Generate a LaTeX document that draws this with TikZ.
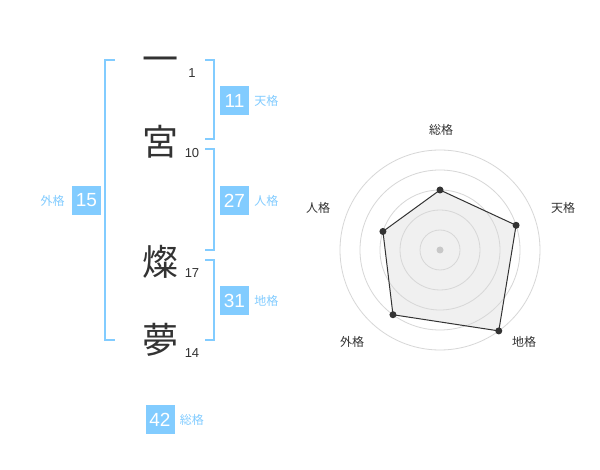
\documentclass[tikz,border=0pt]{standalone}
\usepackage{fontspec}
\setmainfont{Liberation Sans}
\newfontfamily\jpfont{Noto Sans CJK JP}
\usetikzlibrary{positioning}
\definecolor{skyblue}{RGB}{130,204,255}
\definecolor{inkgray}{RGB}{51,51,51}
\definecolor{ringgray}{RGB}{215,215,215}
\definecolor{fillgray}{RGB}{240,240,240}
\definecolor{dotgray}{RGB}{200,200,200}
\tikzset{
  kanji/.style={inner sep=0pt, text=inkgray, font=\jpfont\fontsize{36}{36}\selectfont},
  strokes/.style={inner sep=0pt, text=inkgray, font=\fontsize{13}{13}\selectfont},
  valbox/.style={fill=skyblue, text=white, minimum size=29pt, inner sep=0pt, font=\fontsize{19}{19}\selectfont},
  kaku/.style={inner sep=0pt, text=skyblue, font=\jpfont\fontsize{12}{12}\selectfont},
  bracket/.style={draw=skyblue, line width=2pt},
  axislabel/.style={inner sep=0pt, text=inkgray, font=\jpfont\fontsize{12}{12}\selectfont},
}
\begin{document}
\begin{tikzpicture}[x=1pt, y=-1pt]
    \useasboundingbox[fill=white] (0,0) rectangle (600,470);

    % Name characters
    \node[kanji] (c1) at (160,64.5) {一};
    \node[kanji] (c2) at (160,142) {宮};
    \node[kanji] (c3) at (160,262) {燦};
    \node[kanji] (c4) at (160,340) {夢};

    % Stroke counts
    \node[strokes] (n1) at (192,73) {1};
    \node[strokes] (n2) at (192,153) {10};
    \node[strokes] (n3) at (192,273) {17};
    \node[strokes] (n4) at (192,353) {14};

    % Brackets
    \draw[bracket] (115,60) -- (105,60) -- (105,340) -- (115,340);
    \draw[bracket] (205,60) -- (214,60) -- (214,139) -- (205,139);
    \draw[bracket] (205,149) -- (214,149) -- (214,250) -- (205,250);
    \draw[bracket] (205,260) -- (214,260) -- (214,340) -- (205,340);

    % Values
    \node[valbox] (ten) at (234.5,100.5) {11};
    \node[kaku, right=5pt of ten] (tenl) {天格};
    \node[valbox] (jin) at (234.5,200.5) {27};
    \node[kaku, right=5pt of jin] (jinl) {人格};
    \node[valbox] (chi) at (234.5,300.5) {31};
    \node[kaku, right=5pt of chi] (chil) {地格};
    \node[valbox] (gai) at (86.5,200.5) {15};
    \node[kaku, left=7pt of gai] (gail) {外格};
    \node[valbox] (sou) at (160,419.5) {42};
    \node[kaku, right=5pt of sou] (soul) {総格};

    % Radar chart
    \coordinate (ctr) at (440,250);
    \foreach \a/\r/\n in {-90/60/p1, -18/80/p2, 54/100/p3, 126/80/p4, 198/60/p5}
        \coordinate (\n) at ([shift={(\a:\r)}]ctr);
    \fill[fillgray] (p1) -- (p2) -- (p3) -- (p4) -- (p5) -- cycle;
    \foreach \r in {20,40,...,100}
        \draw[ringgray, line width=0.8pt] (ctr) circle[radius=\r];
    \draw[inkgray, line width=1pt] (p1) -- (p2) -- (p3) -- (p4) -- (p5) -- cycle;
    \foreach \n in {p1,p2,p3,p4,p5}
        \fill[inkgray] (\n) circle[radius=3.5];
    \fill[dotgray] (ctr) circle[radius=3.5];

    \node[axislabel] (ax1) at (441,130) {総格};
    \node[axislabel] (ax2) at (563,208) {天格};
    \node[axislabel] (ax3) at (524,342) {地格};
    \node[axislabel] (ax4) at (352,342) {外格};
    \node[axislabel] (ax5) at (318,208) {人格};
\end{tikzpicture}
\end{document}
